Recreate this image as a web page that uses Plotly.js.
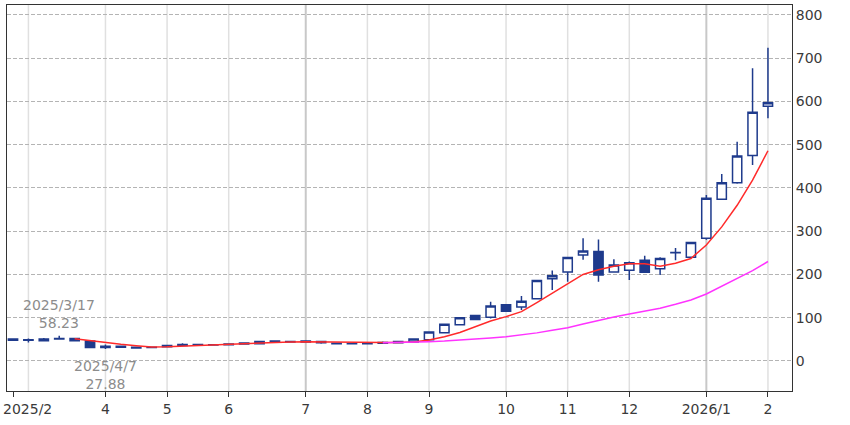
<!DOCTYPE html>
<html>
<head>
<meta charset="utf-8">
<script src="https://cdn.plot.ly/plotly-3.0.1.min.js"></script>
<style>html,body{margin:0;padding:0;background:#fff;}#chart{width:850px;height:425px;}</style>
</head>
<body>
<div id="chart"></div>
<script>
const weeks = ['2025-02-24','2025-03-03','2025-03-10','2025-03-17','2025-03-24','2025-03-31','2025-04-07','2025-04-14','2025-04-21','2025-04-28',
  '2025-05-05','2025-05-12','2025-05-19','2025-05-26','2025-06-02','2025-06-09','2025-06-16','2025-06-23','2025-06-30','2025-07-07',
  '2025-07-14','2025-07-21','2025-07-28','2025-08-04','2025-08-11','2025-08-18','2025-08-25','2025-09-01','2025-09-08','2025-09-15',
  '2025-09-22','2025-09-29','2025-10-06','2025-10-13','2025-10-20','2025-10-27','2025-11-03','2025-11-10','2025-11-17','2025-11-24',
  '2025-12-01','2025-12-08','2025-12-15','2025-12-22','2025-12-29','2026-01-05','2026-01-12','2026-01-19','2026-01-26','2026-02-02'];
const openP  = [51,48,47,51,52,46,31,34,32,31, 33,36,38,37,37.5,39,45,44,45,44, 45,41,40,40,41,42,44,49,65,84, 105,101,130,125,144,190,206,245,253,206, 210,233,213,250,240,284,374,412,475,589];
const highP  = [52,52,53,58.23,53,47,38,36,33,33, 37,41,39,38.5,40,43,46,48,46,47, 45.5,43,42,43,45,46,52,67,86,101, 107,137,132,150,187,209,240,284,281,235, 230,243,240,261,275,384,432,507,677,724];
const lowP   = [46,43,46,49,46,30,27.88,30,29,29.5, 32,35,35,36,36,38,39,43,43,43, 40,38,38,39,40,41,43,48,64,83, 94,98,113,118,142,164,183,234,183,204, 187,204,199,233,238,280,372,410,453,561];
const closeP = [48,49,51,52,47,31,34,32,30,31.5, 36,38,37,37.5,39,41.5,40,46,44,46, 42,40,40.5,41.5,43,45,51,67,85,100, 96,127,115,138,186,197,239,254,199,222, 227,205,237,251,274,376,412,474,575,597];
const maShort = [null,null,null,null,51.5,47,42,38.5,35.5,32.5, 33,34.5,36,37,38.5,40,41.5,43,44,44.5, 44,43,42.5,42.5,42.5,43,44,48.5,56,66, 79,92.5,102.5,114,135,156.5,179,200,211,219, 225,225,219,226,237,268,310,360,418,486];
const maLong = [null,null,null,null,null,null,null,null,null,null, null,null,null,null,null,null,null,null,null,null, null,null,null,null,42,42.5,43.5,44.5,46,48, 50,53,56,60,65,71,77,85.5,94,101.5, 108.5,115,122,131,141,155,173,191,209,230];
const tickWeeks = ['2025-02-24','2025-04-07','2025-05-05','2025-06-02','2025-07-07','2025-08-04','2025-09-01','2025-10-06','2025-11-03','2025-12-01','2026-01-05','2026-02-02'];
const tickText  = ['2025/2','4','5','6','7','8','9','10','11','12','2026/1','2'];
const gridWeeks = ['2025-03-03','2025-04-07','2025-05-05','2025-06-02','2025-07-07','2025-08-04','2025-09-01','2025-10-06','2025-11-03','2025-12-01','2026-01-05','2026-02-02'];
const strongGridWeeks = ['2025-07-07','2026-01-05'];
const yTicks = [0,100,200,300,400,500,600,700,800];
const hiNote = {week:'2025-03-17', value:58.23, label:'2025/3/17'};
const loNote = {week:'2025-04-07', value:27.88, label:'2025/4/7'};

const navy = '#1e3a8c';
const traces = [
  {type:'candlestick', x:weeks, open:openP, high:highP, low:lowP, close:closeP,
   increasing:{line:{color:navy,width:1.5}, fillcolor:'#ffffff'},
   decreasing:{line:{color:navy,width:1.5}, fillcolor:navy},
   whiskerwidth:0, hoverinfo:'none', showlegend:false},
  {type:'scatter', mode:'lines', x:weeks, y:maShort, line:{color:'#ff2a2a',width:1.5}, hoverinfo:'none', showlegend:false},
  {type:'scatter', mode:'lines', x:weeks, y:maLong, line:{color:'#ff33ff',width:1.5}, hoverinfo:'none', showlegend:false}
];
const shapes = gridWeeks.map(w => ({
  type:'line', xref:'x', yref:'paper', x0:w, x1:w, y0:0, y1:1, layer:'below',
  line:{color: strongGridWeeks.includes(w) ? '#c8c8c8' : '#e0e0e0', width: strongGridWeeks.includes(w) ? 2 : 1.5}
}));
const fnt = {family:'"DejaVu Sans", Verdana, sans-serif', size:14, color:'#3a3a3a'};
const noteFont = {family:'"DejaVu Sans", Verdana, sans-serif', size:14, color:'#8c8c8c'};
// first tick label is drawn as an annotation so it can stay inside the page edge
const shownTickText = tickText.map((t, i) => i === 0 ? '' : t);
const layout = {
  width:850, height:425,
  margin:{l:7, r:58, t:5, b:34},
  paper_bgcolor:'#fff', plot_bgcolor:'#fff',
  font:fnt,
  showlegend:false,
  boxgap:0.25, boxgroupgap:0.2,
  xaxis:{type:'category', range:[-0.39,50.56], rangeslider:{visible:false},
    tickmode:'array', tickvals:tickWeeks, ticktext:shownTickText,
    showgrid:false, ticks:'outside', ticklen:5, tickcolor:'#333',
    showline:true, linecolor:'#333', linewidth:1, mirror:true, tickfont:fnt, fixedrange:true},
  yaxis:{side:'right', range:[-69.4,823], tickmode:'array', tickvals:yTicks,
    showgrid:true, gridcolor:'#b4b4b4', griddash:'4px,2px', gridwidth:1, zeroline:false,
    ticks:'', showline:true, linecolor:'#333', linewidth:1, mirror:true, tickfont:fnt, fixedrange:true},
  shapes:shapes,
  annotations:[
    {x:tickWeeks[0], y:0, xref:'x', yref:'paper', text:tickText[0], showarrow:false,
     xanchor:'left', yanchor:'top', xshift:-12, yshift:-8, font:fnt},
    {x:hiNote.week, y:hiNote.value, xref:'x', yref:'y', text:hiNote.label+'<br>'+hiNote.value.toFixed(2),
     showarrow:false, yanchor:'bottom', yshift:3, font:noteFont},
    {x:loNote.week, y:loNote.value, xref:'x', yref:'y', text:loNote.label+'<br>'+loNote.value.toFixed(2),
     showarrow:false, yanchor:'top', yshift:-7, font:noteFont}
  ]
};
Plotly.newPlot('chart', traces, layout, {displayModeBar:false, staticPlot:true});
</script>
</body>
</html>
